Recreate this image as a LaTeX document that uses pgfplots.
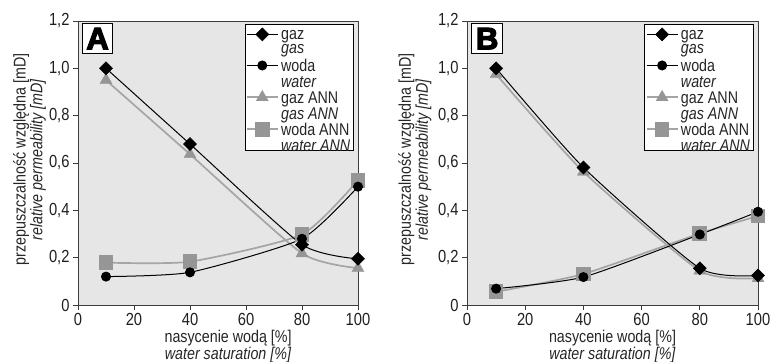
\documentclass[border=0pt]{standalone}
\usepackage{fontspec}
\setmainfont{Liberation Sans}[FakeStretch=0.84]
\newfontfamily\heavy{Liberation Sans Bold}[FakeBold=4]
\usepackage{pgfplots}
\pgfplotsset{compat=1.18}
\usepackage{pgfplotstable}
\definecolor{bgc}{RGB}{230,230,231}
\definecolor{axc}{RGB}{60,60,60}
\definecolor{gline}{RGB}{165,165,165}
\definecolor{gfill}{RGB}{150,150,150}

\pgfplotstableread{
x y
10 1.00
40 0.68
80 0.255
100 0.195
}\gazA
\pgfplotstableread{
x y
10 0.12
40 0.138
80 0.28
100 0.50
}\wodaA
\pgfplotstableread{
x y
10 0.95
40 0.637
80 0.218
100 0.156
}\gazannA
\pgfplotstableread{
x y
10 0.179
40 0.183
80 0.298
100 0.527
}\wodaannA
\pgfplotstableread{
x y
10 1.00
40 0.581
80 0.155
100 0.125
}\gazB
\pgfplotstableread{
x y
10 0.069
40 0.118
80 0.298
100 0.394
}\wodaB
\pgfplotstableread{
x y
10 0.975
40 0.563
80 0.145
100 0.113
}\gazannB
\pgfplotstableread{
x y
10 0.056
40 0.131
80 0.302
100 0.376
}\wodaannB

\pgfplotsset{
  relperm/.style={
    anchor=south west, scale only axis, height=284pt,
    xmin=0, xmax=100, ymin=0, ymax=1.2,
    xtick={0,20,40,60,80,100},
    xticklabels={0,20,40,60,80,100},
    ytick={0,0.2,0.4,0.6,0.8,1.0,1.2},
    yticklabels={0,{0,2},{0,4},{0,6},{0,8},{1,0},{1,2}},
    tick align=outside, tick pos=left, major tick length=5pt,
    axis background/.style={fill=bgc},
    axis line style={draw=axc, line width=0.9pt},
    tick style={draw=axc, line width=0.9pt},
    ticklabel style={font=\fontsize{17.5}{17.5}\selectfont, text=black!88},
    ylabel={przepuszczalność względna [mD]\\\textit{relative permeability [mD]}},
    xlabel={nasycenie wodą [\%]\\\textit{water saturation [\%]}},
    label style={font=\fontsize{17}{13.5}\selectfont, align=center, text=black!85},
    legend style={at={(rel axis cs:0.986,0.99)}, anchor=north east,
      draw=black, line width=0.8pt, fill=white,
      font=\fontsize{17}{14.5}\selectfont, text=black!85,
      row sep=6pt, inner xsep=1pt, inner ysep=3pt,
      cells={anchor=west},
      nodes={inner xsep=2.5pt}},
    legend image code/.code={
      \draw[mark repeat=2, mark phase=2] plot coordinates {(0pt,5pt) (15.5pt,5pt) (31pt,5pt)};},
    blk/.style={black, line width=1pt, smooth, tension=0.35},
    gry/.style={gline, line width=1.7pt, smooth, tension=0.35},
    mdia/.style={mark=square*, mark size=4.6pt, mark options={rotate=45, fill=black, draw=black, line width=0.5pt}},
    mcirc/.style={mark=*, mark size=4.5pt, mark options={fill=black, draw=black}},
    mtri/.style={mark=triangle*, mark size=7pt, mark options={fill=gfill, draw=gfill, line width=0.3pt}},
    msq/.style={mark=square*, mark size=6.5pt, mark options={fill=gfill, draw=gfill}},
  }
}

\newcommand{\twol}[2]{\begin{tabular}{@{}l@{}}#1\\#2\end{tabular}}

\begin{document}
\begin{tikzpicture}
\begin{axis}[relperm, at={(78pt,56pt)}, width=280pt,
  xlabel style={at={(axis description cs:0.536,-0.145)}, anchor=center},
  ylabel style={at={(axis description cs:-0.173,0.512)}, anchor=center}]
\addlegendimage{blk, mdia}
\addlegendentry{\twol{gaz}{\textit{gas}}}
\addlegendimage{blk, mcirc}
\addlegendentry{\twol{woda}{\textit{water}}}
\addlegendimage{gry, mtri}
\addlegendentry{\twol{gaz ANN}{\textit{gas ANN}}}
\addlegendimage{gry, msq}
\addlegendentry{\twol{woda ANN}{\textit{water ANN}}}
\addplot[gry, msq, forget plot] table {\wodaannA};
\addplot[gry, mtri, forget plot] table {\gazannA};
\addplot[blk, mcirc, forget plot] table {\wodaA};
\addplot[blk, mdia, forget plot] table {\gazA};
\node[draw=black, line width=1.3pt, fill=white, anchor=north west, minimum width=30pt, minimum height=30pt, inner sep=0pt]
  at (rel axis cs:0.014,0.993) {\fontsize{31}{31}\selectfont\heavy A};
\end{axis}
\begin{axis}[relperm, at={(467pt,56pt)}, width=291pt,
  xlabel style={at={(axis description cs:0.5,-0.145)}, anchor=center},
  ylabel style={at={(axis description cs:-0.179,0.512)}, anchor=center}]
\addlegendimage{blk, mdia}
\addlegendentry{\twol{gaz}{\textit{gas}}}
\addlegendimage{blk, mcirc}
\addlegendentry{\twol{woda}{\textit{water}}}
\addlegendimage{gry, mtri}
\addlegendentry{\twol{gaz ANN}{\textit{gas ANN}}}
\addlegendimage{gry, msq}
\addlegendentry{\twol{woda ANN}{\textit{water ANN}}}
\addplot[gry, msq, forget plot] table {\wodaannB};
\addplot[gry, mtri, forget plot] table {\gazannB};
\addplot[blk, mcirc, forget plot] table {\wodaB};
\addplot[blk, mdia, forget plot] table {\gazB};
\node[draw=black, line width=1.3pt, fill=white, anchor=north west, minimum width=31pt, minimum height=30pt, inner sep=0pt]
  at (rel axis cs:0.014,0.993) {\fontsize{31}{31}\selectfont\heavy B};
\end{axis}
\pgfresetboundingbox
\path (0,0) rectangle (770pt,361pt);
\end{tikzpicture}
\end{document}
